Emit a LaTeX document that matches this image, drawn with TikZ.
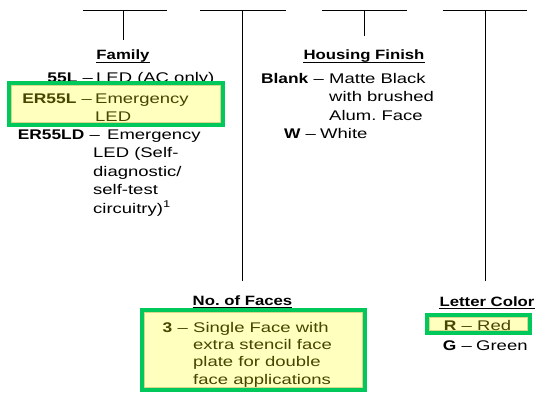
\documentclass[tikz,border=0pt]{standalone}
\usepackage{fontspec}
\setmainfont{Liberation Sans}[FakeStretch=1.32, BoldFeatures={FakeStretch=1.24}]
\usetikzlibrary{positioning}

\definecolor{hlgreen}{RGB}{0,200,90}
\definecolor{hlyellow}{RGB}{255,255,190}
\definecolor{hledge}{RGB}{215,215,140}
\definecolor{hltext}{RGB}{70,70,0}

% lines of one entry, baseline on the first line
\newcommand{\entrylines}[1]{\begin{tabular}[t]{@{}l@{}}#1\end{tabular}}

\tikzset{
  head/.style={font=\fontsize{13.5}{16}\selectfont\bfseries, inner sep=0pt, anchor=base},
  code/.style={font=\fontsize{14}{18}\selectfont, inner sep=0pt, anchor=base east},
  desc/.style={font=\fontsize{14}{18}\selectfont, inner sep=0pt, anchor=base west},
  hlbox/.style={draw=hlgreen, line width=4pt, fill=hlyellow},
  hlrim/.style={draw=hledge, line width=0.8pt},
  rule/.style={line width=0.9pt}
}

\begin{document}
\begin{tikzpicture}[x=1pt, y=-1pt]
  \useasboundingbox (0,0) rectangle (537,393);

  % top rules
  \coordinate (t1) at (123,10.5);
  \coordinate (t2) at (242.5,10.5);
  \coordinate (t3) at (364,10.5);
  \coordinate (t4) at (485,10.5);
  \draw[rule] (83,10.5) -- (167,10.5);
  \draw[rule] (200,10.5) -- (285.5,10.5);
  \draw[rule] (321.5,10.5) -- (406.5,10.5);
  \draw[rule] (442.5,10.5) -- (526.5,10.5);

  % headings
  \node[head] (famh) at (123,60) {Family};
  \node[head] (finh) at (364,60) {Housing Finish};
  \node[head] (fach) at (242.5,305) {No.\ of Faces};
  \node[head] (colh) at (487,306) {Letter Color};
  \foreach \h in {famh,finh,fach,colh}
    \draw[rule] ([yshift=-2.5pt]\h.base west) -- ([yshift=-2.5pt]\h.base east);

  \draw[rule] (t1) -- ([yshift=10.5pt]famh.north);
  \draw[rule] (t2) -- ([yshift=14.5pt]fach.north);
  \draw[rule] (t3) -- ([yshift=14.5pt]finh.north);
  \draw[rule] (t4) -- ([yshift=15.5pt]colh.north -| t4);

  % Family
  \node[code] (c55l) at (93,83) {\textbf{55L} –};
  \node[desc] (d55l) at (96,83) {LED (AC only)};
  \draw[hlbox] (9,83) rectangle (223,125);
  \draw[hlrim] (11.5,85.5) rectangle (220.5,122.5);
  \node[code, text=hltext] (cer) at (92,103) {\textbf{ER55L} –};
  \node[desc, text=hltext] (der) at (95,103) {\entrylines{Emergency\\LED}};
  \node[code] (cerd) at (100,139) {\textbf{ER55LD} –};
  \node[desc, font=\fontsize{14}{18.5}\selectfont] (derd) at (93,139)
    {\entrylines{\hspace*{14pt}Emergency\\LED (Self-\\diagnostic/\\self-test\\circuitry)\textsuperscript{1}}};

  % Housing Finish
  \node[code] (cbl) at (324,84) {\textbf{Blank} –};
  \node[desc] (dbl) at (329,84) {\entrylines{Matte Black\\with brushed\\Alum.\ Face}};
  \node[code] (cw) at (316,138) {\textbf{W} –};
  \node[desc] (dw) at (320,138) {White};

  % No. of Faces
  \draw[hlbox] (142,310) rectangle (365,390);
  \draw[hlrim] (144.5,312.5) rectangle (362.5,387.5);
  \node[code, text=hltext] (c3) at (188,332) {\textbf{3} –};
  \node[desc, text=hltext, font=\fontsize{14}{17.4}\selectfont] (d3) at (193,332)
    {\entrylines{Single Face with\\extra stencil face\\plate for double\\face applications}};

  % Letter Color
  \draw[hlbox] (427,315) rectangle (530,333);
  \draw[hlrim] (429.5,317.5) rectangle (527.5,330.5);
  \node[code, text=hltext] (cr) at (472,330) {\textbf{R} –};
  \node[desc, text=hltext] (dr) at (477,330) {Red};
  \node[code] (cg) at (472,350) {\textbf{G} –};
  \node[desc] (dg) at (476,350) {Green};
\end{tikzpicture}
\end{document}
